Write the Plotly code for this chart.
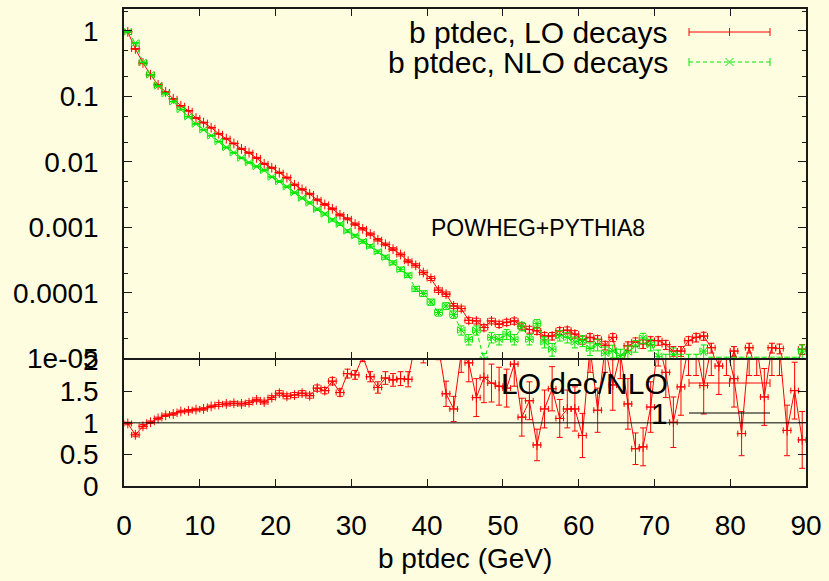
import plotly.graph_objects as go

# ---------------- data ----------------
bins = [0.5, 1.5, 2.5, 3.5, 4.5, 5.5, 6.5, 7.5, 8.5, 9.5,
        10.5, 11.5, 12.5, 13.5, 14.5, 15.5, 16.5, 17.5, 18.5, 19.5,
        20.5, 21.5, 22.5, 23.5, 24.5, 25.5, 26.5, 27.5, 28.5, 29.5,
        30.5, 31.5, 32.5, 33.5, 34.5, 35.5, 36.5, 37.5, 38.5, 39.5,
        40.5, 41.5, 42.5, 43.5, 44.5, 45.5, 46.5, 47.5, 48.5, 49.5,
        50.5, 51.5, 52.5, 53.5, 54.5, 55.5, 56.5, 57.5, 58.5, 59.5,
        60.5, 61.5, 62.5, 63.5, 64.5, 65.5, 66.5, 67.5, 68.5, 69.5,
        70.5, 71.5, 72.5, 73.5, 74.5, 75.5, 76.5, 77.5, 78.5, 79.5,
        80.5, 81.5, 82.5, 83.5, 84.5, 85.5, 86.5, 87.5, 88.5, 89.5]

lo_dec = [0.97, 0.532, 0.324, 0.214, 0.150, 0.117, 0.0918, 0.0719, 0.0603, 0.0468,
          0.0398, 0.0333, 0.0269, 0.0226, 0.0191, 0.0158, 0.0138, 0.0115, 0.00933, 0.00813,
          0.00684, 0.00575, 0.00447, 0.00380, 0.00324, 0.00263, 0.00224, 0.00192, 0.00155, 0.00135,
          0.00112, 0.000950, 0.000790, 0.000646, 0.000550, 0.000465, 0.000385, 0.000304, 0.000263, 0.000204,
          0.000166, 0.000110, 9.55e-5, 6.31e-5, 5.75e-5, 3.80e-5, 3.72e-5, 2.95e-5, 3.72e-5, 3.31e-5,
          3.55e-5, 3.72e-5, 3.09e-5, 2.75e-5, 2.63e-5, 2.19e-5, 2.19e-5, 2.63e-5, 2.69e-5, 2.34e-5,
          1.91e-5, 2.09e-5, 1.95e-5, 1.58e-5, 2.09e-5, 6.0e-6, 1.55e-5, 1.78e-5, 1.66e-5, 1.86e-5,
          1.86e-5, 1.62e-5, 1.29e-5, 1.29e-5, 1.86e-5, 2.09e-5, 2.19e-5, 1.45e-5, 6.0e-6, 6.0e-6,
          1.29e-5, 6.0e-6, 1.45e-5, 6.0e-6, 6.0e-6, 1.45e-5, 1.41e-5, 6.0e-6, 6.0e-6, 1.38e-5]

nlo_dec = [0.97, 0.656, 0.331, 0.214, 0.145, 0.110, 0.0832, 0.0631, 0.0490, 0.0380,
           0.0309, 0.0251, 0.0204, 0.0166, 0.0138, 0.0115, 0.00977, 0.00851, 0.00741, 0.00589,
           0.00501, 0.00417, 0.00339, 0.00280, 0.00236, 0.00189, 0.00160, 0.00130, 0.00112, 0.000880,
           0.000745, 0.000610, 0.000515, 0.000425, 0.000350, 0.000288, 0.000229, 0.000186, 0.000115, 9.77e-5,
           7.24e-5, 5.01e-5, 6.31e-5, 4.68e-5, 2.69e-5, 1.95e-5, 2.69e-5, 9.5e-6, 2.09e-5, 1.95e-5,
           2.34e-5, 1.95e-5, 3.09e-5, 1.95e-5, 3.39e-5, 1.78e-5, 1.38e-5, 2.24e-5, 2.09e-5, 1.78e-5,
           1.86e-5, 1.41e-5, 1.62e-5, 1.20e-5, 1.30e-5, 1.10e-5, 1.25e-5, 1.55e-5, 2.04e-5, 1.62e-5,
           1.07e-5, 9.0e-6, 1.15e-5, 9.0e-6, 9.0e-6, 9.0e-6, 1.29e-5, 8.0e-6, 8.0e-6, 8.0e-6,
           8.0e-6, 8.0e-6, 8.0e-6, 8.0e-6, 8.0e-6, 8.0e-6, 8.0e-6, 8.0e-6, 8.0e-6, 1.29e-5]

# relative errors (%) of the two distributions
lo_err_pct = [1, 1, 1, 1, 1, 1, 1, 1, 1, 1,
              1.5, 1.5, 1.5, 1.5, 1.5, 2, 2, 2, 2, 2,
              2, 2, 2.5, 2.5, 2.5, 3, 3, 3, 3.5, 3.5,
              4, 4, 4, 4.5, 4.5, 5, 5, 5, 6, 6,
              7, 8, 8, 9, 9, 10, 10, 11, 10, 11,
              11, 11, 12, 12, 12, 13, 13, 12, 12, 13,
              14, 14, 14, 15, 14, 30, 15, 15, 15, 15,
              15, 16, 17, 17, 15, 15, 14, 17, 30, 30,
              17, 30, 17, 30, 30, 17, 17, 30, 30, 17]

nlo_err_pct = [1, 1, 1, 1, 1, 1, 1, 1, 1, 1.5,
               1.5, 1.5, 1.5, 2, 2, 2, 2, 2.5, 2.5, 2.5,
               3, 3, 3, 3.5, 3.5, 4, 4, 4.5, 4.5, 5,
               5, 6, 6, 6, 7, 7, 8, 8, 9, 10,
               11, 12, 12, 13, 16, 18, 16, 25, 18, 18,
               17, 18, 15, 18, 15, 19, 22, 18, 18, 19,
               19, 22, 20, 24, 22, 25, 23, 20, 18, 20,
               25, 28, 25, 28, 28, 28, 24, 30, 30, 30,
               30, 30, 30, 30, 30, 30, 30, 30, 30, 24]

ratio = [0.99, 0.81, 0.945, 1.01, 1.07, 1.12, 1.14, 1.18, 1.19, 1.21,
         1.22, 1.26, 1.29, 1.30, 1.31, 1.30, 1.32, 1.365, 1.33, 1.40,
         1.47, 1.42, 1.44, 1.47, 1.43, 1.55, 1.51, 1.66, 1.48, 1.78,
         1.76, 2.05, 1.73, 1.56, 1.71, 1.68, 1.70, 1.69, 2.3, 2.1,
         2.3, 2.2, 1.46, 1.22, 2.1, 1.95, 1.40, 1.72, 1.63, 1.58,
         1.55, 1.93, 1.09, 1.35, 0.65, 1.22, 1.54, 1.07, 1.22, 1.22,
         0.80, 2.2, 1.20, 2.2, 1.6, 2.1, 1.3, 0.59, 0.62, 1.25,
         2.3, 1.8, 1.01, 1.57, 2.2, 2.2, 1.59, 2.2, 1.9, 2.2,
         1.7, 0.83, 2.2, 2.2, 1.41, 2.2, 2.2, 0.88, 1.51, 0.73]

ratio_err = [0.02, 0.03, 0.03, 0.02, 0.02, 0.02, 0.02, 0.02, 0.02, 0.02,
             0.02, 0.02, 0.03, 0.03, 0.03, 0.03, 0.03, 0.03, 0.03, 0.03,
             0.04, 0.04, 0.04, 0.04, 0.04, 0.05, 0.05, 0.06, 0.06, 0.07,
             0.07, 0.08, 0.08, 0.09, 0.1, 0.1, 0.11, 0.12, 0.15, 0.15,
             0.18, 0.2, 0.2, 0.2, 0.3, 0.3, 0.3, 0.4, 0.3, 0.3,
             0.3, 0.35, 0.3, 0.3, 0.25, 0.3, 0.35, 0.3, 0.3, 0.35,
             0.35, 0.4, 0.35, 0.4, 0.4, 0.4, 0.4, 0.25, 0.3, 0.4,
             0.4, 0.4, 0.4, 0.45, 0.45, 0.45, 0.45, 0.45, 0.45, 0.45,
             0.45, 0.35, 0.45, 0.45, 0.45, 0.45, 0.45, 0.4, 0.45, 0.45]

unity_x = [0, 90]
unity_y = [1, 1]

x_ticks = [0, 10, 20, 30, 40, 50, 60, 70, 80, 90]
y_ticks_top = [1e-5, 1e-4, 1e-3, 1e-2, 1e-1, 1]
y_ticktext_top = ["1e-05", "0.0001", "0.001", "0.01", "0.1", "1"]
y_minor_top = [2e-5, 5e-5, 2e-4, 5e-4, 2e-3, 5e-3, 2e-2, 5e-2, 0.2, 0.5, 2]
y_ticks_bot = [0, 0.5, 1, 1.5, 2]
y_ticktext_bot = ["0", "0.5", "1", "1.5", "2"]

# ---------------- style ----------------
W, H = 829, 581
BG = "#fffde0"
RED = "#ff0000"
GREEN = "#00e800"
FONT = "Liberation Sans, Arial, sans-serif"
FS = 28
FS_KEY = 30
FS_LABEL = 23
AX = "#1a1a1a"


def PX(x):
    return x / W


def PY(y):
    return 1 - y / H


XDOM = [PX(124), PX(806)]
YDOM_TOP = [PY(358.3), PY(9)]
YDOM_BOT = [PY(486), PY(359.7)]

lo_err = [v * p / 100 for v, p in zip(lo_dec, lo_err_pct)]
nlo_err = [v * p / 100 for v, p in zip(nlo_dec, nlo_err_pct)]

fig = go.Figure()

fig.add_trace(go.Scatter(
    x=bins, y=lo_dec, mode="lines+markers", xaxis="x", yaxis="y",
    line=dict(color=RED, width=1),
    marker=dict(symbol="cross-thin", size=7, line=dict(color=RED, width=1), color=RED),
    error_x=dict(type="constant", value=0.5, color=RED, thickness=1, width=3),
    error_y=dict(type="data", array=lo_err, color=RED, thickness=1, width=3),
    showlegend=False, name="b ptdec, LO decays"))

fig.add_trace(go.Scatter(
    x=bins, y=nlo_dec, mode="lines+markers", xaxis="x", yaxis="y",
    line=dict(color=GREEN, width=1, dash="4px,3px"),
    marker=dict(symbol="x-thin", size=7, line=dict(color=GREEN, width=1), color=GREEN),
    error_x=dict(type="constant", value=0.5, color=GREEN, thickness=1, width=3),
    error_y=dict(type="data", array=nlo_err, color=GREEN, thickness=1, width=3),
    showlegend=False, name="b ptdec, NLO decays"))

fig.add_trace(go.Scatter(
    x=bins, y=ratio, mode="lines+markers", xaxis="x2", yaxis="y2",
    line=dict(color=RED, width=1),
    marker=dict(symbol="cross-thin", size=7, line=dict(color=RED, width=1), color=RED),
    error_x=dict(type="constant", value=0.5, color=RED, thickness=1, width=3),
    error_y=dict(type="data", array=ratio_err, color=RED, thickness=1, width=3),
    showlegend=False, name="LO dec/NLO"))

fig.add_trace(go.Scatter(
    x=unity_x, y=unity_y, mode="lines", xaxis="x2", yaxis="y2",
    line=dict(color="#000000", width=1), showlegend=False, name="1"))

axis_common = dict(showline=True, linecolor=AX, linewidth=1.5, mirror="ticks",
                   ticks="inside", tickcolor=AX, tickwidth=1, showgrid=False,
                   zeroline=False, automargin=False,
                   tickfont=dict(family=FONT, size=FS, color="#000"))

fig.update_layout(
    width=W, height=H, autosize=False,
    margin=dict(l=0, r=0, t=0, b=0, pad=0, autoexpand=False),
    paper_bgcolor=BG, plot_bgcolor=BG,
    showlegend=False,
    xaxis=dict(domain=XDOM, range=[0, 90], anchor="y", tickmode="array", tickvals=x_ticks,
               showticklabels=False, ticklen=7, **axis_common),
    yaxis=dict(domain=YDOM_TOP, type="log", range=[-5, 0.335], anchor="x",
               tickmode="array", tickvals=y_ticks_top, ticktext=y_ticktext_top,
               ticklen=8, ticklabelstandoff=18,
               minor=dict(tickmode="array", tickvals=y_minor_top, ticklen=4, ticks="inside",
                          tickcolor=AX, tickwidth=1, showgrid=False),
               **axis_common),
    xaxis2=dict(domain=XDOM, range=[0, 90], anchor="y2", tickmode="array", tickvals=x_ticks,
                ticklen=7, ticklabelstandoff=14, **axis_common),
    yaxis2=dict(domain=YDOM_BOT, range=[0, 2], anchor="x2", tickmode="array",
                tickvals=y_ticks_bot, ticktext=y_ticktext_bot, ticklen=8,
                ticklabelstandoff=18, **axis_common),
)

shapes = []
annotations = []


def text(s, x, y, anchor="right", size=FS_KEY):
    annotations.append(dict(text=s, x=PX(x), y=PY(y), xref="paper", yref="paper",
                            xanchor=anchor, yanchor="middle", showarrow=False,
                            font=dict(family=FONT, size=size, color="#000")))


def seg(x0, y0, x1, y1, color, dash="solid", width=1):
    shapes.append(dict(type="line", xref="paper", yref="paper",
                       x0=PX(x0), y0=PY(y0), x1=PX(x1), y1=PY(y1),
                       line=dict(color=color, width=width, dash=dash)))


def errsample(y, color, dash, mark):
    seg(689, y, 770, y, color, dash)
    seg(689, y - 4, 689, y + 4, color)
    seg(770, y - 4, 770, y + 4, color)
    if mark == "+":
        seg(729.5, y - 4, 729.5, y + 4, color)
    elif mark == "x":
        seg(725.5, y - 4, 733.5, y + 4, color)
        seg(725.5, y + 4, 733.5, y - 4, color)


text("b ptdec, LO decays", 670, 32)
errsample(32, RED, "solid", "+")
text("b ptdec, NLO decays", 670, 62)
errsample(62, GREEN, "4px,3px", "x")
text("POWHEG+PYTHIA8", 429, 228, anchor="left", size=FS_LABEL)
text("LO dec/NLO", 670, 383)
errsample(383, RED, "solid", "+")
text("1", 670, 413)
seg(689, 413, 770, 413, "#000000")

text("b ptdec (GeV)", 465, 558, anchor="center", size=FS)

fig.update_layout(shapes=shapes, annotations=annotations)

fig.write_html("out.html",
               post_script="document.body.style.margin='0px';"
                           "document.body.style.overflow='hidden';")
